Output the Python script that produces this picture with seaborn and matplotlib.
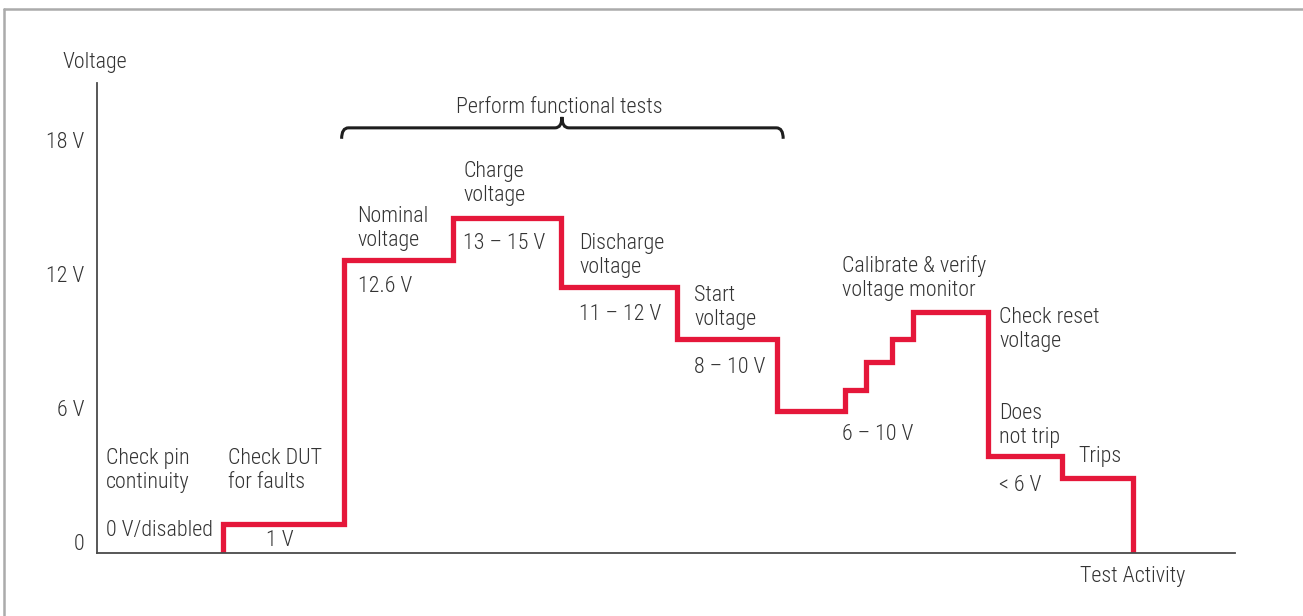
import matplotlib
matplotlib.use('Agg')
import matplotlib.pyplot as plt
from matplotlib import font_manager
from matplotlib.path import Path
from matplotlib.patches import PathPatch
from matplotlib.lines import Line2D
import pandas as pd
import seaborn as sns

# step edges along the activity axis and the voltage held from each edge on
activity = [11.1, 11.1, 21.7, 31.3, 40.8, 51.0, 59.8, 65.7, 67.6, 69.9, 71.7, 78.3, 84.8, 91.0]
voltage = [-0.5, 0.8, 12.6, 14.5, 11.4, 9.1, 5.85, 6.8, 8.05, 9.1, 10.3, 3.85, 2.87, -0.5]

tick_values = [0, 6, 12, 18]
tick_labels = ['0', '6 V', '12 V', '18 V']

label_texts = ['Check pin\ncontinuity', '0 V/disabled', 'Check DUT\nfor faults',
               'Nominal\nvoltage', '12.6 V', 'Charge\nvoltage', '13 – 15 V',
               'Discharge\nvoltage', '11 – 12 V', 'Start\nvoltage', '8 – 10 V',
               'Calibrate & verify\nvoltage monitor', '6 – 10 V',
               'Check reset\nvoltage', 'Does\nnot trip', '< 6 V', 'Trips']
label_x = [0.8, 0.8, 11.5, 22.9, 22.9, 32.2, 32.2, 42.4, 42.4, 52.5, 52.5,
           65.5, 65.5, 79.3, 79.3, 79.3, 86.2]
label_y = [3.19, 0.52, 3.19, 14.03, 11.44, 16.04, 13.37, 12.82, 10.2, 10.49, 7.82,
           11.8, 4.82, 9.5, 5.2, 2.54, 3.8]


def pick_font(names):
    for n in names:
        try:
            font_manager.findfont(font_manager.FontProperties(family=n), fallback_to_default=False)
            return n
        except ValueError:
            pass
    return 'DejaVu Sans'


sns.set_style('white')
font = pick_font(['Liberation Sans Narrow', 'Roboto Condensed', 'Roboto'])
fsize = 15.8 if 'Narrow' in font or 'Condensed' in font else 13.2
plt.rcParams['font.family'] = [font, 'DejaVu Sans']
plt.rcParams['font.weight'] = 'light'
txt_color = '#333333'
red = '#E5173A'

fig = plt.figure(figsize=(13.03, 6.16), dpi=100)
ax = fig.add_axes([0.0744, 0.1023, 0.8734, 0.763])

df = pd.DataFrame({'activity': activity, 'voltage': voltage})
sns.lineplot(data=df, x='activity', y='voltage', ax=ax, estimator=None, sort=False,
             drawstyle='steps-post', color=red, linewidth=3.8,
             solid_joinstyle='miter', solid_capstyle='butt')

ax.set_xlim(0, 100)
ax.set_ylim(-0.5, 20.55)
ax.set_yticks(tick_values)
ax.set_yticklabels(tick_labels)
ax.set_xticks([])
ax.tick_params(axis='y', length=0, pad=9, labelsize=fsize, labelcolor=txt_color)
ax.set_xlabel('')
ax.set_ylabel('')
for s in ['top', 'right']:
    ax.spines[s].set_visible(False)
for s in ['left', 'bottom']:
    ax.spines[s].set_color('#4a4a4a')
    ax.spines[s].set_linewidth(1.3)

for t, x, y in zip(label_texts, label_x, label_y):
    ax.text(x, y, t, ha='left', va='center', fontsize=fsize, color=txt_color,
            linespacing=1.18)
ax.text(16.1, 0.05, '1 V', ha='center', va='center', fontsize=fsize, color=txt_color)

ax.text(-3.0, 21.45, 'Voltage', ha='left', va='center', fontsize=fsize, color=txt_color, clip_on=False)
ax.text(86.4, -1.55, 'Test Activity', ha='left', va='center', fontsize=fsize, color=txt_color, clip_on=False)
ax.text(40.6, 19.44, 'Perform functional tests', ha='center', va='center', fontsize=fsize,
        color=txt_color, clip_on=False)

# curly brace over the functional tests
verts = [(21.5, 18.05), (21.5, 18.54), (22.1, 18.54), (40.25, 18.54),
         (40.86, 18.54), (40.86, 19.03), (40.86, 18.54), (41.47, 18.54),
         (59.7, 18.54), (60.3, 18.54), (60.3, 18.05)]
codes = [Path.MOVETO, Path.CURVE3, Path.CURVE3, Path.LINETO,
         Path.CURVE3, Path.CURVE3, Path.CURVE3, Path.CURVE3,
         Path.LINETO, Path.CURVE3, Path.CURVE3]
ax.add_patch(PathPatch(Path(verts, codes), fill=False, edgecolor='#1e1e1e', linewidth=2.2,
                       clip_on=False, capstyle='butt'))

# light frame around the figure (top and left edges)
fig.add_artist(Line2D([4 / 1303, 1], [1 - 9 / 616, 1 - 9 / 616], color='#ababab', linewidth=1.8))
fig.add_artist(Line2D([4 / 1303, 4 / 1303], [0, 1 - 9 / 616], color='#ababab', linewidth=1.8))

fig.savefig('out.png', dpi=100)
